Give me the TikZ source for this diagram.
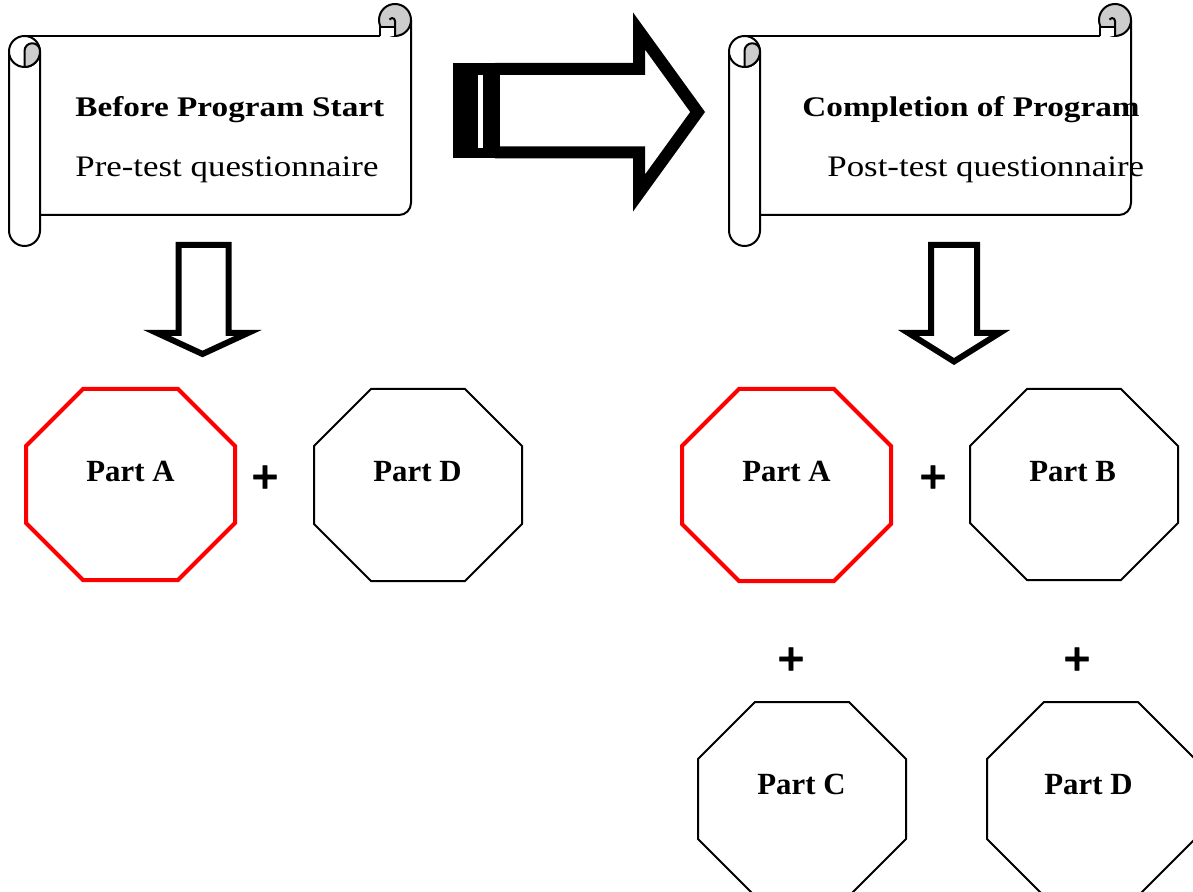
\documentclass[tikz,border=0pt]{standalone}
\usepackage{fontspec}
\setmainfont{Liberation Serif}
\newfontfamily\scrollfont[FakeStretch=1.17]{Liberation Serif}
\newfontfamily\plusfont[FakeBold=1.6]{DejaVu Sans Bold}
\definecolor{curlgrey}{RGB}{204,204,204}
\definecolor{octred}{RGB}{255,0,0}
\tikzset{
  scrolledge/.style={line width=1pt, line join=round, draw=black},
  redoct/.style={draw=octred, line width=2pt, line join=miter, fill=white},
  blackoct/.style={draw=black, line width=1pt, line join=miter, fill=white},
  bigarrowline/.style={draw=black, line width=6pt, line join=miter, miter limit=10},
  downarrowline/.style={draw=black, line width=3pt, line join=miter, miter limit=10, fill=white},
  titletext/.style={anchor=base west, inner sep=0pt, font={\fontsize{14.2pt}{17pt}\selectfont\scrollfont\bfseries}},
  subtext/.style={anchor=base west, inner sep=0pt, font={\fontsize{14.9pt}{18pt}\selectfont\scrollfont}},
  parttext/.style={anchor=base west, inner sep=0pt, font={\fontsize{15.4pt}{18pt}\selectfont\bfseries}},
  plustext/.style={anchor=center, inner sep=0pt, font={\fontsize{18pt}{20pt}\selectfont\plusfont}}
}
\newcommand\octshape[6]{%
  \draw[#1] ({#2+#6},#3) -- ({#4-#6},#3) -- (#4,{#3+#6}) -- (#4,{#5-#6}) --
    ({#4-#6},#5) -- ({#2+#6},#5) -- (#2,{#5-#6}) -- (#2,{#3+#6}) -- cycle;}
\newcommand\scrollshape{%
  % body
  \fill[white] (24.5,36) -- (411,36) -- (411,203) arc[start angle=0,end angle=90,radius=12] -- (24.5,215) -- cycle;
  \draw[scrolledge] (24.5,36) -- (379.5,36);
  \draw[scrolledge] (411,20) -- (411,203) arc[start angle=0,end angle=90,radius=12] -- (40,215);
  % top-right curl
  \filldraw[scrolledge, fill=curlgrey] (395,20) circle[radius=16];
  \fill[white] (379.5,36) -- (379.5,27) -- (395,27) -- (395,36) -- cycle;
  \draw[scrolledge] (379.5,36) -- (379.5,27) -- (395,27);
  \draw[scrolledge] (395,36) -- (395,21) arc[start angle=0,end angle=-150,radius=3];
  % left roll
  \filldraw[scrolledge, fill=white] (9,51.5) -- (9,230.5) arc[start angle=180,end angle=0,radius=15.5] -- (40,51.5);
  \filldraw[scrolledge, fill=white] (24.5,51.5) circle[radius=15.5];
  \filldraw[scrolledge, fill=curlgrey] (24.5,67) -- (24.5,51) arc[start angle=180,end angle=360,radius=7.75]
     -- (40,51.5) arc[start angle=0,end angle=90,radius=15.5] -- cycle;
}
\begin{document}
\begin{tikzpicture}[x=0.5pt, y=-0.5pt]
\useasboundingbox (0,0) rectangle (1193,892);
\clip (0,0) rectangle (1193,892);

% scrolls
\begin{scope}\scrollshape\end{scope}
\begin{scope}[shift={(720,0)}]\scrollshape\end{scope}

\node[titletext] (beforetitle) at (75,117) {Before Program Start};
\node[subtext] (pretest) at (75,177) {Pre-test questionnaire};
\node[titletext] (completiontitle) at (802,117) {Completion of Program};
\node[subtext] (posttest) at (827,177) {Post-test questionnaire};

% big striped arrow
\fill[black] (453,63) rectangle (500,158);
\fill[white] (478,75) rectangle (483,148);
\draw[bigarrowline] (495,69) -- (639,69) -- (639,31) -- (697.6,112) -- (639,193) -- (639,152.5) -- (495,152.5);

% down arrows
\draw[downarrowline] (178.5,333) -- (178.5,245) -- (228.5,245) -- (228.5,333) -- (248,333) -- (202.5,354) -- (157,333) -- cycle;
\draw[downarrowline] (931,333) -- (931,245) -- (977,245) -- (977,333) -- (999.6,333) -- (954,361.5) -- (908.4,333) -- cycle;

% octagons
\octshape{redoct}{26}{389}{235}{580}{57}
\octshape{blackoct}{314}{389}{522}{581}{57}
\octshape{redoct}{682}{389}{891}{581}{57}
\octshape{blackoct}{970}{389}{1178}{580}{57}
\octshape{blackoct}{698}{702}{906}{896}{57}
\octshape{blackoct}{987}{702}{1195}{896}{57}

\node[parttext] (leftA) at (86,481) {Part A};
\node[parttext] (leftD) at (373,481) {Part D};
\node[parttext] (rightA) at (742,481) {Part A};
\node[parttext] (rightB) at (1029,481) {Part B};
\node[parttext] (rightC) at (757,794) {Part C};
\node[parttext] (rightD) at (1044,794) {Part D};

% plus signs
\node[plustext] (plusone) at (265,477) {+};
\node[plustext] (plustwo) at (933,477) {+};
\node[plustext] (plusthree) at (791,659) {+};
\node[plustext] (plusfour) at (1077,659) {+};
\end{tikzpicture}
\end{document}
